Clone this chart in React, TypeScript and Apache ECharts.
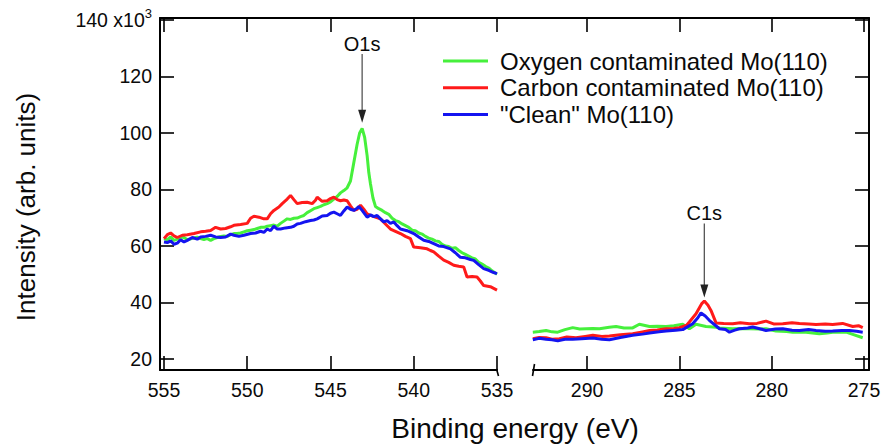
import React, { useEffect, useRef } from "react";
import * as echarts from "echarts";

// XPS spectra of Mo(110): O1s region (555–535 eV) and C1s region (293–275 eV)
// Intensities are in units of 10^3 counts.

const oxygenO1s: [number, number][] = [
  [555.0, 62.6], [554.8, 62.2], [554.6, 63.2], [554.4, 62.0], [554.2, 62.4], [554.0, 63.2],
  [553.8, 63.0], [553.6, 62.2], [553.4, 62.5], [553.2, 62.8], [553.0, 63.1], [552.8, 62.6],
  [552.6, 62.3], [552.4, 62.6], [552.2, 62.0], [552.0, 62.6], [551.8, 63.0], [551.6, 63.4],
  [551.4, 63.5], [551.2, 63.4], [551.0, 64.0], [550.8, 64.4], [550.6, 64.4], [550.4, 64.6],
  [550.2, 65.0], [550.0, 65.4], [549.8, 65.6], [549.6, 65.8], [549.4, 66.2], [549.2, 66.6],
  [549.0, 66.6], [548.8, 67.0], [548.6, 67.2], [548.4, 67.4], [548.2, 67.0], [548.0, 68.0],
  [547.8, 68.8], [547.6, 69.6], [547.4, 69.4], [547.2, 69.8], [547.0, 69.9], [546.8, 70.4],
  [546.6, 70.8], [546.4, 71.8], [546.2, 72.5], [546.0, 73.2], [545.8, 73.6], [545.6, 74.0],
  [545.4, 74.6], [545.2, 75.0], [545.0, 75.6], [544.8, 76.6], [544.6, 77.5], [544.4, 78.8],
  [544.2, 79.6], [544.0, 80.6], [543.8, 83.0], [543.6, 89.5], [543.4, 96.0], [543.25, 100.0],
  [543.1, 101.6], [542.95, 98.5], [542.8, 92.0], [542.7, 86.0], [542.6, 82.0], [542.45, 77.0],
  [542.3, 74.0], [542.1, 73.2], [541.9, 72.6], [541.7, 71.8], [541.5, 71.2], [541.3, 69.8],
  [541.1, 69.0], [540.9, 68.6], [540.7, 67.8], [540.5, 67.2], [540.3, 66.6], [540.1, 65.6],
  [539.9, 65.4], [539.7, 64.6], [539.5, 64.2], [539.3, 63.4], [539.1, 62.8], [538.9, 62.4],
  [538.7, 61.8], [538.5, 61.6], [538.3, 60.6], [538.1, 60.0], [537.9, 59.8], [537.7, 59.2],
  [537.5, 59.4], [537.3, 58.4], [537.1, 57.6], [536.9, 57.0], [536.7, 56.4], [536.5, 55.8],
  [536.3, 55.4], [536.1, 54.2], [535.9, 53.6], [535.7, 52.8], [535.5, 52.2], [535.3, 51.2],
  [535.0, 50.0],
];

const carbonO1s: [number, number][] = [
  [555.0, 62.6], [554.8, 64.0], [554.6, 64.6], [554.4, 63.6], [554.2, 63.0], [553.9, 63.8],
  [553.6, 64.0], [553.2, 64.4], [552.8, 65.0], [552.5, 65.2], [552.2, 65.5], [551.9, 66.6],
  [551.6, 66.0], [551.3, 66.2], [551.0, 66.8], [550.8, 67.3], [550.4, 67.6], [550.0, 68.0],
  [549.8, 69.8], [549.6, 70.5], [549.3, 70.2], [549.0, 69.6], [548.8, 69.6], [548.6, 71.4],
  [548.4, 72.6], [548.1, 73.8], [547.9, 75.0], [547.6, 76.6], [547.4, 77.9], [547.2, 76.4],
  [547.0, 75.0], [546.7, 75.4], [546.4, 75.5], [546.1, 75.0], [545.9, 76.2], [545.8, 77.3],
  [545.5, 75.8], [545.2, 76.0], [545.0, 76.8], [544.8, 77.3], [544.6, 76.4], [544.4, 76.0],
  [544.2, 76.3], [544.0, 76.0], [543.8, 74.2], [543.6, 72.6], [543.4, 73.0], [543.2, 74.4],
  [543.0, 73.0], [542.8, 71.4], [542.4, 70.4], [542.0, 69.6], [541.7, 67.8], [541.4, 66.0],
  [541.1, 65.2], [540.8, 64.4], [540.5, 63.4], [540.2, 62.6], [540.0, 59.6], [539.6, 59.4],
  [539.2, 59.0], [539.0, 58.4], [538.8, 57.9], [538.5, 56.4], [538.2, 55.0], [537.9, 54.2],
  [537.6, 53.2], [537.3, 52.8], [537.0, 52.6], [536.8, 49.0], [536.5, 49.2], [536.2, 49.0],
  [536.0, 47.6], [535.8, 46.0], [535.4, 45.6], [535.0, 44.4],
];

const cleanO1s: [number, number][] = [
  [555.0, 61.4], [554.8, 61.2], [554.6, 61.8], [554.4, 60.6], [554.2, 61.0], [554.0, 62.2],
  [553.8, 61.4], [553.6, 62.0], [553.3, 63.0], [553.0, 62.4], [552.8, 63.2], [552.5, 63.4],
  [552.2, 63.8], [551.9, 63.2], [551.6, 63.0], [551.3, 63.2], [551.0, 64.2], [550.8, 63.8],
  [550.5, 63.4], [550.2, 63.8], [549.8, 64.4], [549.5, 64.6], [549.2, 65.2], [549.0, 64.8],
  [548.8, 66.0], [548.6, 65.4], [548.4, 67.0], [548.2, 66.0], [548.0, 66.0], [547.7, 66.4],
  [547.4, 66.6], [547.2, 67.0], [547.0, 67.8], [546.8, 68.0], [546.5, 68.6], [546.2, 69.0],
  [546.0, 69.2], [545.8, 69.6], [545.5, 70.6], [545.2, 70.8], [545.0, 71.6], [544.8, 72.0],
  [544.6, 71.4], [544.4, 70.8], [544.2, 72.4], [544.0, 73.8], [543.8, 73.0], [543.6, 72.6],
  [543.4, 73.4], [543.3, 74.0], [543.1, 72.6], [542.8, 70.2], [542.6, 71.0], [542.4, 70.4],
  [542.2, 70.8], [542.0, 69.6], [541.8, 68.5], [541.6, 69.0], [541.4, 68.0], [541.2, 68.5],
  [541.0, 67.2], [540.8, 66.0], [540.4, 65.4], [540.0, 64.4], [539.7, 63.2], [539.4, 62.0],
  [539.1, 61.6], [538.8, 60.8], [538.5, 60.0], [538.2, 59.8], [537.8, 59.0], [537.5, 57.6],
  [537.2, 56.0], [536.9, 55.8], [536.6, 55.2], [536.4, 54.9], [536.1, 53.4], [535.8, 52.0],
  [535.5, 51.4], [535.2, 50.6], [535.0, 50.2],
];

const oxygenC1s: [number, number][] = [
  [292.94, 29.5], [292.6, 29.7], [292.22, 30.1], [291.9, 29.6], [291.59, 29.5], [291.2, 30.4],
  [290.78, 31.1], [290.4, 30.6], [290.05, 30.7], [289.7, 30.8], [289.33, 30.7], [288.8, 31.2],
  [288.43, 31.5], [288.0, 31.0], [287.53, 31.0], [287.17, 32.3], [286.62, 31.5], [286.2, 31.6],
  [285.72, 31.5], [285.3, 31.8], [284.82, 32.3], [284.46, 30.7], [284.1, 32.3], [283.56, 31.5],
  [283.0, 31.2], [282.83, 31.0], [282.11, 30.7], [281.6, 30.8], [281.21, 30.7], [280.6, 30.6],
  [280.31, 30.7], [279.77, 29.9], [279.2, 29.7], [278.86, 29.5], [278.14, 29.5], [277.42, 28.9],
  [277.0, 29.2], [276.7, 29.5], [275.97, 29.5], [275.61, 28.7], [275.07, 27.5],
];

const carbonC1s: [number, number][] = [
  [292.94, 27.2], [292.6, 27.6], [292.22, 27.5], [291.9, 27.0], [291.5, 27.2], [291.1, 27.8],
  [290.6, 27.5], [290.1, 28.0], [289.69, 28.4], [289.2, 28.0], [288.79, 28.1], [288.2, 28.6],
  [287.53, 28.9], [287.0, 29.6], [286.62, 30.1], [286.2, 30.3], [285.72, 30.7], [285.3, 30.8],
  [285.0, 31.1], [284.6, 32.0], [284.46, 33.1], [284.1, 36.0], [283.8, 39.5], [283.65, 40.5],
  [283.45, 39.0], [283.29, 37.2], [283.01, 32.7], [282.6, 32.6], [282.11, 32.5], [281.7, 32.8],
  [281.21, 32.5], [280.8, 32.6], [280.31, 33.4], [279.9, 32.4], [279.4, 32.5], [278.9, 32.8],
  [278.5, 32.6], [278.0, 32.4], [277.6, 32.2], [277.1, 32.4], [276.7, 32.2], [276.16, 32.6],
  [275.61, 31.5], [275.3, 31.8], [275.07, 31.1],
];

const cleanC1s: [number, number][] = [
  [292.94, 26.8], [292.6, 27.3], [292.22, 27.0], [291.9, 26.8], [291.59, 26.4], [291.2, 27.0],
  [290.78, 27.0], [290.3, 27.2], [289.69, 27.4], [289.2, 27.0], [288.79, 26.8], [288.2, 27.6],
  [287.53, 28.4], [287.0, 28.8], [286.62, 29.2], [286.1, 29.6], [285.72, 29.9], [285.2, 30.2],
  [284.82, 30.4], [284.28, 32.5], [284.0, 34.6], [283.83, 36.3], [283.6, 35.2], [283.38, 33.7],
  [282.83, 30.7], [282.5, 30.4], [282.29, 29.5], [282.0, 30.2], [281.75, 30.7], [281.3, 31.0],
  [281.03, 31.3], [280.6, 30.6], [280.31, 30.1], [279.8, 30.6], [279.4, 30.7], [278.9, 30.2],
  [278.5, 30.1], [278.0, 30.4], [277.6, 30.1], [277.1, 29.8], [276.7, 29.9], [276.2, 30.1],
  [275.79, 30.1], [275.4, 29.8], [275.07, 29.5],
];

const seriesNames = [
  "Oxygen contaminated Mo(110)",
  "Carbon contaminated Mo(110)",
  '"Clean" Mo(110)',
];
const seriesColors = ["#46f03c", "#ff1a1a", "#1414f0"];

const yTicks = [20, 40, 60, 80, 100, 120, 140];
const o1sTicks = [535, 540, 545, 550, 555];
const c1sTicks = [275, 280, 285, 290];

// Peak annotations: label and the energy each arrow points at
const peakLabels = ["O1s", "C1s"];
const peakEnergies = [543.1, 283.65];

const FONT = "'Liberation Sans', Arial, Helvetica, sans-serif";
const AXIS_COLOR = "#000";
const TEXT_COLOR = "#0a0a0a";

function bottomAxis(gridIndex: number, min: number, max: number, ticks: number[]) {
  return {
    type: "value" as const,
    gridIndex,
    position: "bottom" as const,
    inverse: true,
    min,
    max,
    axisLine: { show: true, onZero: false, lineStyle: { color: AXIS_COLOR, width: 2 } },
    axisTick: { show: true, inside: true, length: 14, customValues: ticks, lineStyle: { color: AXIS_COLOR, width: 1.6 } },
    axisLabel: { show: true, customValues: ticks, margin: 10, color: TEXT_COLOR, fontSize: 19.5, fontFamily: FONT },
    splitLine: { show: false },
  };
}

function topAxis(gridIndex: number, min: number, max: number, ticks: number[]) {
  return {
    type: "value" as const,
    gridIndex,
    position: "top" as const,
    inverse: true,
    min,
    max,
    axisLine: { show: true, onZero: false, lineStyle: { color: AXIS_COLOR, width: 2 } },
    axisTick: { show: true, inside: true, length: 14, customValues: ticks, lineStyle: { color: AXIS_COLOR, width: 1.6 } },
    axisLabel: { show: false },
    splitLine: { show: false },
  };
}

export default function App() {
  const ref = useRef<HTMLDivElement>(null);

  useEffect(() => {
    if (!ref.current) return;
    const chart = echarts.init(ref.current, null, { renderer: "svg" });

    const lineSeries = (name: string, color: string, data: [number, number][], panel: number) => ({
      type: "line" as const,
      name,
      data,
      xAxisIndex: panel === 0 ? 0 : 2,
      yAxisIndex: panel,
      showSymbol: false,
      symbol: "none",
      clip: true,
      lineStyle: { color, width: 3 },
      itemStyle: { color },
      emphasis: { disabled: true },
    });

    chart.setOption({
      animation: false,
      backgroundColor: "#fff",
      grid: [
        { left: 160, top: 18, width: 337, height: 352 },
        { left: 533, top: 18, width: 336, height: 352 },
      ],
      xAxis: [
        bottomAxis(0, 535, 555.24, o1sTicks),
        topAxis(0, 535, 555.24, o1sTicks),
        bottomAxis(1, 274.73, 292.93, c1sTicks),
        topAxis(1, 274.73, 292.93, c1sTicks),
      ],
      yAxis: [
        {
          type: "value",
          gridIndex: 0,
          position: "left",
          min: 16.1,
          max: 140.7,
          axisLine: { show: true, lineStyle: { color: AXIS_COLOR, width: 2 } },
          axisTick: { show: true, inside: true, length: 14, customValues: yTicks, lineStyle: { color: AXIS_COLOR, width: 1.6 } },
          axisLabel: {
            show: true,
            customValues: yTicks,
            margin: 8,
            color: TEXT_COLOR,
            fontSize: 19.5,
            fontFamily: FONT,
            formatter: (v: number) => (v === 140 ? "{m|140 x10}{s|3}" : String(v)),
            rich: {
              m: { fontSize: 19.5, fontFamily: FONT, color: TEXT_COLOR },
              s: { fontSize: 13, fontFamily: FONT, color: TEXT_COLOR, padding: [0, 0, 12, 0] },
            },
          },
          splitLine: { show: false },
        },
        {
          type: "value",
          gridIndex: 1,
          position: "right",
          min: 16.1,
          max: 140.7,
          axisLine: { show: true, lineStyle: { color: AXIS_COLOR, width: 2 } },
          axisTick: { show: true, inside: true, length: 14, customValues: yTicks, lineStyle: { color: AXIS_COLOR, width: 1.6 } },
          axisLabel: { show: false },
          splitLine: { show: false },
        },
      ],
      legend: {
        data: seriesNames,
        orient: "vertical",
        left: 443,
        top: 49,
        padding: 0,
        icon: "rect",
        itemWidth: 45,
        itemHeight: 3,
        itemGap: 2.7,
        selectedMode: false,
        textStyle: { fontSize: 24, lineHeight: 24, color: TEXT_COLOR, fontFamily: FONT, padding: [0, 0, 0, 7] },
      },
      series: [
        lineSeries(seriesNames[0], seriesColors[0], oxygenO1s, 0),
        lineSeries(seriesNames[1], seriesColors[1], carbonO1s, 0),
        lineSeries(seriesNames[2], seriesColors[2], cleanO1s, 0),
        lineSeries(seriesNames[0], seriesColors[0], oxygenC1s, 1),
        lineSeries(seriesNames[1], seriesColors[1], carbonC1s, 1),
        lineSeries(seriesNames[2], seriesColors[2], cleanC1s, 1),
      ],
    });

    // Annotations positioned through the axes' own scales
    const toPx = (panel: number, x: number, y: number) =>
      chart.convertToPixel({ xAxisIndex: panel === 0 ? 0 : 2, yAxisIndex: panel }, [x, y]) as number[];

    // [label intensity, arrow start intensity, arrow tip intensity]
    const arrowRanges = [
      [131.5, 128, 103.6],
      [71.6, 68, 41.8],
    ];
    const annotation: any[] = [];
    peakLabels.forEach((label, i) => {
      const [labelY, startY, tipY] = arrowRanges[i];
      const lp = toPx(i, peakEnergies[i], labelY);
      const sp = toPx(i, peakEnergies[i], startY);
      const tp = toPx(i, peakEnergies[i], tipY);
      annotation.push({
        type: "text",
        x: lp[0],
        y: lp[1],
        style: { text: label, fontSize: 20, fontFamily: FONT, fill: TEXT_COLOR, align: "center", verticalAlign: "middle" },
      });
      annotation.push({
        type: "line",
        shape: { x1: sp[0], y1: sp[1], x2: tp[0], y2: tp[1] - 10 },
        style: { stroke: "#555", lineWidth: 1.3 },
      });
      annotation.push({
        type: "polygon",
        shape: { points: [[tp[0] - 4, tp[1] - 13], [tp[0] + 4, tp[1] - 13], [tp[0], tp[1]]] },
        style: { fill: "#222" },
      });
    });

    chart.setOption({
      graphic: [
        // continuous top frame across the axis break
        { type: "line", shape: { x1: 496, y1: 18, x2: 534, y2: 18 }, style: { stroke: AXIS_COLOR, lineWidth: 2 } },
        // axis break marks
        { type: "line", shape: { x1: 496.5, y1: 369, x2: 498.5, y2: 376 }, style: { stroke: AXIS_COLOR, lineWidth: 1.6 } },
        { type: "line", shape: { x1: 534.5, y1: 364, x2: 532.5, y2: 376 }, style: { stroke: AXIS_COLOR, lineWidth: 1.6 } },
        {
          type: "text",
          x: 26,
          y: 207,
          rotation: Math.PI / 2,
          style: {
            text: "Intensity (arb. units)",
            fontSize: 26,
            fontFamily: FONT,
            fill: TEXT_COLOR,
            align: "center",
            verticalAlign: "middle",
          },
        },
        {
          type: "text",
          x: 515,
          y: 428,
          style: {
            text: "Binding energy (eV)",
            fontSize: 28,
            fontFamily: FONT,
            fill: TEXT_COLOR,
            align: "center",
            verticalAlign: "middle",
          },
        },
        ...annotation,
      ],
    });

    return () => chart.dispose();
  }, []);

  return (
    <div
      ref={ref}
      style={{ position: "fixed", left: 0, top: 0, width: 884, height: 446, background: "#fff" }}
    />
  );
}
